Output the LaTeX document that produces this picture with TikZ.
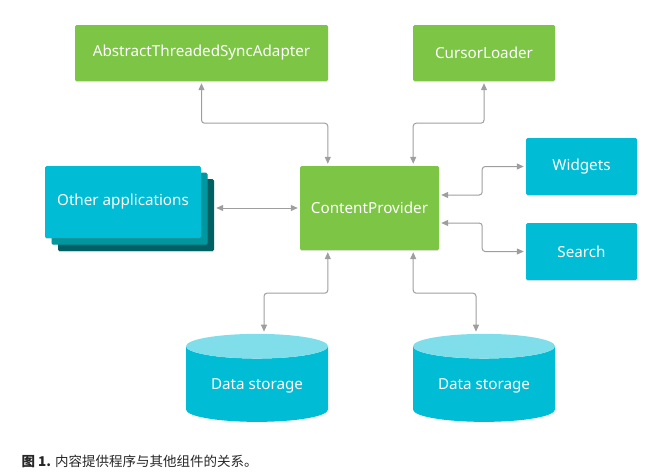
\documentclass[tikz,border=0pt]{standalone}
\usepackage{fontspec}
\setmainfont{Noto Sans}
\newfontfamily\cjk{Noto Sans CJK SC}
\usepackage{tikz}
\usetikzlibrary{arrows.meta,shapes.geometric,positioning,shadows}
\definecolor{adgreen}{HTML}{7CC545}
\definecolor{adcyan}{HTML}{00BCD4}
\definecolor{adcyanmid}{HTML}{00979F}
\definecolor{adcyandark}{HTML}{006064}
\definecolor{adcyanlight}{HTML}{80DEEA}
\definecolor{adgray}{HTML}{9E9E9E}
\tikzstyle{box} = [rectangle, rounded corners=1.5pt, text=white, font=\fontsize{15.2}{17}\selectfont, text centered, drop shadow={shadow xshift=0pt, shadow yshift=-1pt, opacity=0.2}]
\tikzstyle{component} = [box, fill=adgreen]
\tikzstyle{client} = [box, fill=adcyan]
\tikzstyle{storage} = [cylinder, shape border rotate=90, aspect=0.25, draw=none, text=white, font=\fontsize{15.2}{17}\selectfont, cylinder uses custom fill, cylinder body fill=adcyan, cylinder end fill=adcyanlight, minimum width=142pt, minimum height=88pt]
\tikzstyle{arrow} = [line width=1pt, color=adgray, {Triangle[length=7pt,width=6pt]}-{Triangle[length=7pt,width=6pt]}, rounded corners=3pt, shorten <=2pt, shorten >=2pt]

\begin{document}
\begin{tikzpicture}[x=1pt, y=-1pt]
\useasboundingbox (0,0) rectangle (656,472);
% Provider and its clients
\node (cp) [component, minimum width=139pt, minimum height=84pt] at (369.5,208) {ContentProvider};
\node (atsa) [component, minimum width=253pt, minimum height=56pt] at (201.5,53) {AbstractThreadedSyncAdapter};
\node (cl) [component, minimum width=142pt, minimum height=56pt] at (484,53) {CursorLoader};

% Other applications (stacked)
\node (apps3) [client, fill=adcyandark, minimum width=156pt, minimum height=72pt] at (136,215) {};
\node (apps2) [client, fill=adcyanmid, minimum width=156pt, minimum height=72pt] at (129.5,208.5) {};
\node (apps) [client, minimum width=156pt, minimum height=72pt] at (123,202) {Other applications};

\node (widgets) [client, minimum width=111pt, minimum height=57pt] at (581.5,166.5) {Widgets};
\node (search) [client, minimum width=111pt, minimum height=57pt] at (581.5,251.5) {Search};

% Data storage
\node (ds1) [storage] at (257,386) {Data storage};
\node (ds2) [storage] at (484,386) {Data storage};

% Connectors
\draw[arrow] (atsa.south) -- ++(0,42) -| ([xshift=28pt]cp.north west);
\draw[arrow] (cl.south) -- ++(0,42) -| ([xshift=-26pt]cp.north east);
\draw[arrow] (cp.west -| apps3.east) -- (cp.west);
\draw[arrow] ([yshift=13pt]cp.east) -- ++(43,0) |- (widgets.west);
\draw[arrow] ([yshift=-15pt]cp.east) -- ++(43,0) |- (search.west);
\draw[arrow] ([xshift=28pt]cp.south west) -- ++(0,43) -| ([xshift=7pt]ds1.north);
\draw[arrow] ([xshift=-26pt]cp.south east) -- ++(0,43) -| ([xshift=-8pt]ds2.north);

% Caption
\node (caption) [anchor=west, text=black!85, font=\cjk\fontsize{13.5}{16}\selectfont] at (18,461) {\textbf{图 1.} 内容提供程序与其他组件的关系。};
\end{tikzpicture}
\end{document}
